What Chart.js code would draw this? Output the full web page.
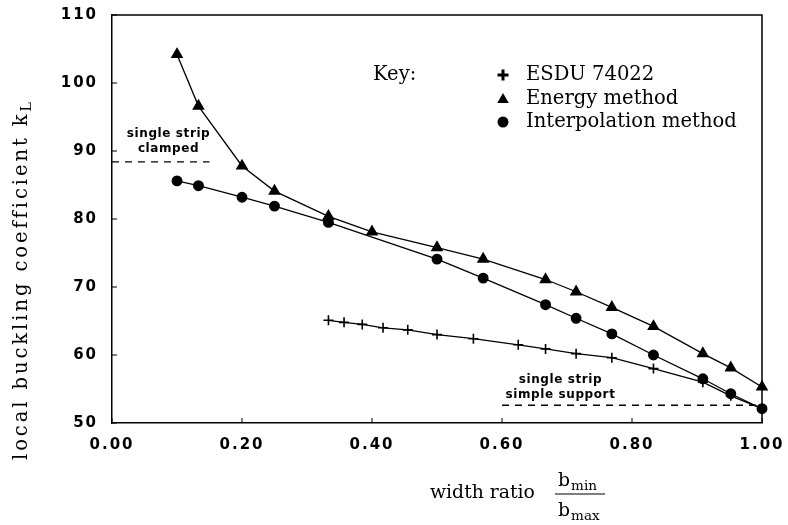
<!DOCTYPE html>
<html>
<head>
<meta charset="utf-8">
<script src="https://cdn.jsdelivr.net/npm/chart.js@4.4.0/dist/chart.umd.min.js"></script>
<style>
    html, body { margin: 0; padding: 0; background: #fff; }
    #wrap { width: 788px; height: 525px; }
</style>
</head>
<body>
<div id="wrap"><canvas id="bucklingChart" width="788" height="525"></canvas></div>
<script>
// values
const esduRatio = [0.333, 0.357, 0.385, 0.417, 0.455, 0.5, 0.556, 0.625, 0.667, 0.714, 0.769, 0.833, 0.909, 0.952, 1.0];
const esduK = [65.1, 64.8, 64.5, 64.0, 63.7, 63.0, 62.4, 61.5, 60.9, 60.2, 59.6, 58.0, 56.0, 54.0, 52.1];

const energyRatio = [0.10, 0.133, 0.2, 0.25, 0.333, 0.4, 0.5, 0.571, 0.667, 0.714, 0.769, 0.833, 0.909, 0.952, 1.0];
const energyK = [104.2, 96.6, 87.8, 84.1, 80.4, 78.1, 75.8, 74.1, 71.1, 69.3, 67.0, 64.2, 60.2, 58.1, 55.3];

const interpRatio = [0.10, 0.133, 0.2, 0.25, 0.333, 0.5, 0.571, 0.667, 0.714, 0.769, 0.833, 0.909, 0.952, 1.0];
const interpK = [85.6, 84.9, 83.2, 81.9, 79.5, 74.1, 71.3, 67.4, 65.4, 63.1, 60.0, 56.5, 54.3, 52.1];

const clampedRatio = [0.0, 0.15];
const clampedK = [88.4, 88.4];
const simpleRatio = [0.60, 1.0];
const simpleK = [52.6, 52.6];

const xTicks = [0, 0.2, 0.4, 0.6, 0.8, 1.0];
const yTicks = [50, 60, 70, 80, 90, 100, 110];

const legendLabels = ['ESDU 74022', 'Energy method', 'Interpolation method'];
const legendStyles = ['plus', 'triangle', 'circle'];

const toPoints = (xs, ys) => xs.map((x, i) => ({x: x, y: ys[i]}));

const serif = '"DejaVu Serif", "Liberation Serif", serif';
const sans = '"DejaVu Sans", "Liberation Sans", sans-serif';

// font size so that a string comes out at a given width
function fitSize(ctx, text, weight, family, width) {
    ctx.font = weight + ' 20px ' + family;
    return 20 * width / ctx.measureText(text).width;
}

function drawMarker(ctx, style, x, y, r) {
    ctx.beginPath();
    if (style === 'triangle') {
        ctx.moveTo(x, y - r);
        ctx.lineTo(x + r * 1.05, y + r * 0.8);
        ctx.lineTo(x - r * 1.05, y + r * 0.8);
        ctx.closePath();
        ctx.fill();
    } else if (style === 'circle') {
        ctx.arc(x, y, r, 0, Math.PI * 2);
        ctx.fill();
    } else {
        ctx.lineWidth = 3;
        ctx.moveTo(x - r, y);
        ctx.lineTo(x + r, y);
        ctx.moveTo(x, y - r);
        ctx.lineTo(x, y + r);
        ctx.stroke();
    }
}

const decorations = {
    id: 'decorations',
    beforeDraw(chart) {
        chart.ctx.letterSpacing = '2px';
    },
    afterDraw(chart) {
        const ctx = chart.ctx;
        const area = chart.chartArea;
        const xs = chart.scales.x;
        const ys = chart.scales.y;
        ctx.save();
        ctx.letterSpacing = '0px';
        ctx.strokeStyle = '#000';
        ctx.fillStyle = '#000';

        // frame
        ctx.lineWidth = 1.5;
        ctx.beginPath();
        ctx.moveTo(area.left, area.top);
        ctx.lineTo(area.right, area.top);
        ctx.lineTo(area.right, area.bottom);
        ctx.stroke();

        // inward tick marks
        ctx.lineWidth = 1;
        ctx.beginPath();
        xTicks.forEach(v => {
            const px = xs.getPixelForValue(v);
            ctx.moveTo(px, area.bottom);
            ctx.lineTo(px, area.bottom - 5);
        });
        yTicks.forEach(v => {
            const py = ys.getPixelForValue(v);
            ctx.moveTo(area.left, py);
            ctx.lineTo(area.left + 5, py);
        });
        ctx.stroke();

        // notes beside the dashed lines
        ctx.font = 'bold 12px ' + sans;
        ctx.letterSpacing = '0.6px';
        ctx.textAlign = 'center';
        ctx.textBaseline = 'middle';
        ctx.fillText('single strip', xs.getPixelForValue(0.087), ys.getPixelForValue(92.5));
        ctx.fillText('clamped', xs.getPixelForValue(0.087), ys.getPixelForValue(90.3));
        ctx.fillText('single strip', xs.getPixelForValue(0.69), ys.getPixelForValue(56.3));
        ctx.fillText('simple support', xs.getPixelForValue(0.69), ys.getPixelForValue(54.1));
        ctx.letterSpacing = '0px';

        // key
        const keySize = fitSize(ctx, 'Interpolation method', 'normal', serif, 211);
        ctx.font = keySize + 'px ' + serif;
        ctx.textAlign = 'left';
        ctx.textBaseline = 'middle';
        ctx.fillText('Key:', 373, 75);
        legendLabels.forEach((label, i) => {
            const rowY = 75 + i * 23.5;
            drawMarker(ctx, legendStyles[i], 503, rowY, 5.5);
            ctx.fillText(label, 526, rowY);
        });

        // y title with subscript, spread out to the length it has in the figure
        const yText = 'local buckling coefficient k';
        const ySize = 19.5;
        ctx.save();
        ctx.translate(27, 460);
        ctx.rotate(-Math.PI / 2);
        ctx.textBaseline = 'alphabetic';
        ctx.textAlign = 'left';
        ctx.font = ySize + 'px ' + serif;
        const natural = ctx.measureText(yText).width;
        ctx.letterSpacing = Math.max(0, (348 - natural) / yText.length) + 'px';
        const yw = ctx.measureText(yText).width;
        ctx.fillText(yText, 0, 0);
        ctx.letterSpacing = '0px';
        ctx.font = (ySize * 0.72) + 'px ' + serif;
        ctx.fillText('L', yw, 4);
        ctx.restore();

        // x title with fraction
        const xSize = fitSize(ctx, 'width ratio', 'normal', serif, 105);
        ctx.font = xSize + 'px ' + serif;
        ctx.textBaseline = 'alphabetic';
        ctx.textAlign = 'left';
        ctx.fillText('width ratio', 430, 498);
        const fracL = 555, fracR = 605, fracY = 494;
        ctx.lineWidth = 1.2;
        ctx.beginPath();
        ctx.moveTo(fracL, fracY);
        ctx.lineTo(fracR, fracY);
        ctx.stroke();
        const bw = ctx.measureText('b').width;
        const subFont = (xSize * 0.72) + 'px ' + serif;
        ctx.fillText('b', 558, 486);
        ctx.font = subFont;
        ctx.fillText('min', 558 + bw + 1, 490);
        ctx.font = xSize + 'px ' + serif;
        ctx.fillText('b', 558, 516);
        ctx.font = subFont;
        ctx.fillText('max', 558 + bw + 1, 520);

        ctx.restore();
    }
};

const lineBase = {
    borderColor: '#000',
    backgroundColor: '#000',
    borderWidth: 1.3,
    showLine: true,
    tension: 0
};

new Chart(document.getElementById('bucklingChart'), {
    type: 'scatter',
    data: {
        datasets: [
            Object.assign({}, lineBase, {
                label: legendLabels[0],
                data: toPoints(esduRatio, esduK),
                pointStyle: 'cross',
                pointRadius: 5,
                pointBorderWidth: 1.6
            }),
            Object.assign({}, lineBase, {
                label: legendLabels[1],
                data: toPoints(energyRatio, energyK),
                pointStyle: 'triangle',
                pointRadius: 6
            }),
            Object.assign({}, lineBase, {
                label: legendLabels[2],
                data: toPoints(interpRatio, interpK),
                pointStyle: 'circle',
                pointRadius: 4.8
            }),
            Object.assign({}, lineBase, {
                label: 'clamped',
                data: toPoints(clampedRatio, clampedK),
                pointRadius: 0,
                borderWidth: 1.4,
                borderDash: [7, 6]
            }),
            Object.assign({}, lineBase, {
                label: 'simple support',
                data: toPoints(simpleRatio, simpleK),
                pointRadius: 0,
                borderWidth: 1.4,
                borderDash: [7, 6]
            })
        ]
    },
    options: {
        responsive: false,
        animation: false,
        clip: false,
        layout: {padding: {top: 15, right: 26, left: 3, bottom: 0}},
        plugins: {
            legend: {display: false},
            tooltip: {enabled: false}
        },
        scales: {
            x: {
                type: 'linear',
                min: 0,
                max: 1,
                afterFit: s => {
                    s.height = 102;
                    s.paddingLeft = 0;
                    s.paddingRight = 0;
                },
                afterBuildTicks: s => { s.ticks = xTicks.map(v => ({value: v})); },
                grid: {display: false, drawTicks: false},
                border: {display: true, color: '#000', width: 1.5},
                ticks: {
                    color: '#000',
                    padding: 13,
                    maxRotation: 0,
                    font: {family: sans, size: 15, weight: 'bold'},
                    callback: v => v.toFixed(2)
                }
            },
            y: {
                min: 50,
                max: 110,
                afterFit: s => {
                    s.width = 109;
                    s.paddingTop = 0;
                    s.paddingBottom = 0;
                },
                afterBuildTicks: s => { s.ticks = yTicks.map(v => ({value: v})); },
                grid: {display: false, drawTicks: false},
                border: {display: true, color: '#000', width: 1.5},
                ticks: {
                    color: '#000',
                    padding: 14,
                    font: {family: sans, size: 15, weight: 'bold'},
                    callback: v => String(v)
                }
            }
        }
    },
    plugins: [decorations]
});
</script>
</body>
</html>
